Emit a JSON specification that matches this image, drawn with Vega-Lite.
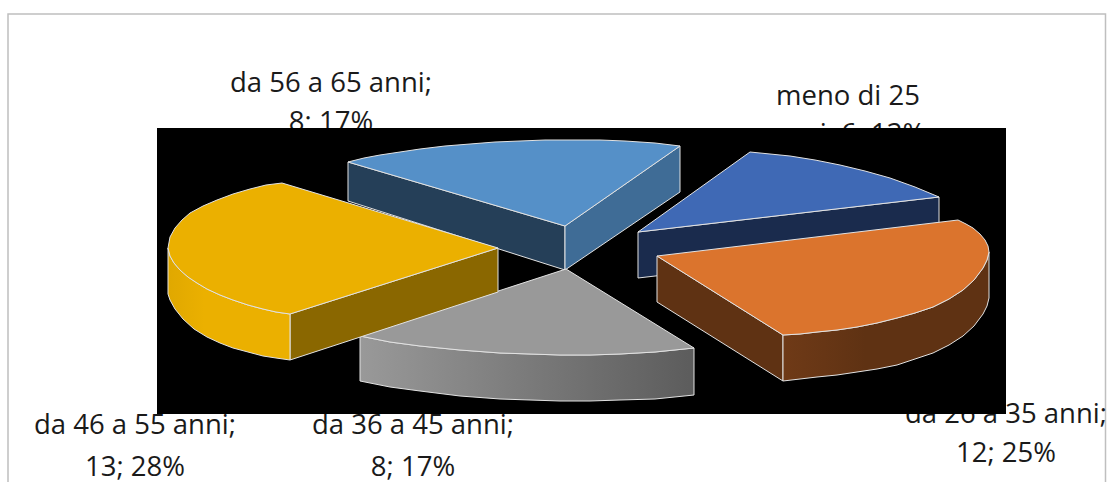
{"$schema":"https://vega.github.io/schema/vega-lite/v6.json","width":1113,"height":482,"autosize":"none","padding":0,"background":"white","config":{"view":{"stroke":null},"line":{"filled":true,"stroke":"#e2e2e2","strokeWidth":1,"interpolate":"linear"}},
"datasets":{"panel":[{"what":"frame","x":8,"x2":1105.5,"y":14,"y2":500},{"what":"back","x":157,"x2":1006,"y":128,"y2":414}],
"labels":[{"t":"da 56 a 65 anni;","x":331,"y":92},{"t":"8; 17%","x":331,"y":131},{"t":"meno di 25","x":848,"y":105},{"t":"anni; 6; 13%","x":848,"y":143},{"t":"da 46 a 55 anni;","x":135,"y":434},{"t":"13; 28%","x":135,"y":476},{"t":"da 36 a 45 anni;","x":413,"y":434},{"t":"8; 17%","x":413,"y":476},{"t":"da 26 a 35 anni;","x":1006,"y":423},{"t":"12; 25%","x":1006,"y":462}],
"shapes":[
{"p":"a1","i":0,"x":638,"y":232},{"p":"a1","i":1,"x":939,"y":197},{"p":"a1","i":2,"x":939,"y":243},{"p":"a1","i":3,"x":638,"y":278},{"p":"a1","i":4,"x":638,"y":232},
{"p":"a2","i":0,"x":638,"y":232},{"p":"a2","i":1,"x":750,"y":152},{"p":"a2","i":2,"x":770,"y":154},{"p":"a2","i":3,"x":790,"y":156},{"p":"a2","i":4,"x":815,"y":160},{"p":"a2","i":5,"x":840,"y":165},{"p":"a2","i":6,"x":865,"y":171},{"p":"a2","i":7,"x":890,"y":178},{"p":"a2","i":8,"x":915,"y":187},{"p":"a2","i":9,"x":939,"y":197},{"p":"a2","i":10,"x":638,"y":232},
{"p":"b1","i":0,"x":348,"y":162},{"p":"b1","i":1,"x":565,"y":226},{"p":"b1","i":2,"x":565,"y":270},{"p":"b1","i":3,"x":348,"y":201},{"p":"b1","i":4,"x":348,"y":162},
{"p":"b2","i":0,"x":565,"y":226},{"p":"b2","i":1,"x":680,"y":146},{"p":"b2","i":2,"x":680,"y":192},{"p":"b2","i":3,"x":565,"y":270},{"p":"b2","i":4,"x":565,"y":226},
{"p":"b3","i":0,"x":565,"y":226},{"p":"b3","i":1,"x":348,"y":162},{"p":"b3","i":2,"x":364,"y":158},{"p":"b3","i":3,"x":380,"y":155},{"p":"b3","i":4,"x":400,"y":152},{"p":"b3","i":5,"x":420,"y":149},{"p":"b3","i":6,"x":445,"y":146},{"p":"b3","i":7,"x":470,"y":144},{"p":"b3","i":8,"x":495,"y":142},{"p":"b3","i":9,"x":520,"y":141},{"p":"b3","i":10,"x":545,"y":140},{"p":"b3","i":11,"x":570,"y":140},{"p":"b3","i":12,"x":600,"y":140},{"p":"b3","i":13,"x":625,"y":141},{"p":"b3","i":14,"x":655,"y":143},{"p":"b3","i":15,"x":680,"y":146},{"p":"b3","i":16,"x":565,"y":226},
{"p":"c1","i":0,"x":360,"y":336},{"p":"c1","i":1,"x":390,"y":342},{"p":"c1","i":2,"x":420,"y":346},{"p":"c1","i":3,"x":460,"y":350},{"p":"c1","i":4,"x":500,"y":353},{"p":"c1","i":5,"x":530,"y":354},{"p":"c1","i":6,"x":560,"y":355},{"p":"c1","i":7,"x":590,"y":355},{"p":"c1","i":8,"x":620,"y":354},{"p":"c1","i":9,"x":655,"y":352},{"p":"c1","i":10,"x":694,"y":348},{"p":"c1","i":11,"x":694,"y":395},{"p":"c1","i":12,"x":655,"y":399},{"p":"c1","i":13,"x":620,"y":400},{"p":"c1","i":14,"x":590,"y":401},{"p":"c1","i":15,"x":560,"y":401},{"p":"c1","i":16,"x":530,"y":400},{"p":"c1","i":17,"x":500,"y":399},{"p":"c1","i":18,"x":460,"y":396},{"p":"c1","i":19,"x":420,"y":391},{"p":"c1","i":20,"x":390,"y":387},{"p":"c1","i":21,"x":360,"y":381},{"p":"c1","i":22,"x":360,"y":336},
{"p":"c2","i":0,"x":566,"y":269},{"p":"c2","i":1,"x":360,"y":336},{"p":"c2","i":2,"x":390,"y":342},{"p":"c2","i":3,"x":420,"y":346},{"p":"c2","i":4,"x":460,"y":350},{"p":"c2","i":5,"x":500,"y":353},{"p":"c2","i":6,"x":530,"y":354},{"p":"c2","i":7,"x":560,"y":355},{"p":"c2","i":8,"x":590,"y":355},{"p":"c2","i":9,"x":620,"y":354},{"p":"c2","i":10,"x":655,"y":352},{"p":"c2","i":11,"x":694,"y":348},{"p":"c2","i":12,"x":566,"y":269},
{"p":"d1","i":0,"x":290,"y":314},{"p":"d1","i":1,"x":498,"y":248},{"p":"d1","i":2,"x":498,"y":292},{"p":"d1","i":3,"x":290,"y":360},{"p":"d1","i":4,"x":290,"y":314},
{"p":"d2","i":0,"x":168,"y":248},{"p":"d2","i":1,"x":170,"y":256},{"p":"d2","i":2,"x":174,"y":263},{"p":"d2","i":3,"x":180,"y":270},{"p":"d2","i":4,"x":188,"y":277},{"p":"d2","i":5,"x":197,"y":283},{"p":"d2","i":6,"x":207,"y":289},{"p":"d2","i":7,"x":220,"y":295},{"p":"d2","i":8,"x":233,"y":300},{"p":"d2","i":9,"x":248,"y":305},{"p":"d2","i":10,"x":263,"y":309},{"p":"d2","i":11,"x":276,"y":312},{"p":"d2","i":12,"x":290,"y":314},{"p":"d2","i":13,"x":290,"y":360},{"p":"d2","i":14,"x":276,"y":358},{"p":"d2","i":15,"x":263,"y":356},{"p":"d2","i":16,"x":248,"y":352},{"p":"d2","i":17,"x":233,"y":348},{"p":"d2","i":18,"x":220,"y":343},{"p":"d2","i":19,"x":207,"y":337},{"p":"d2","i":20,"x":194,"y":329},{"p":"d2","i":21,"x":183,"y":319},{"p":"d2","i":22,"x":175,"y":309},{"p":"d2","i":23,"x":170,"y":300},{"p":"d2","i":24,"x":168,"y":294},{"p":"d2","i":25,"x":168,"y":248},
{"p":"d3","i":0,"x":498,"y":248},{"p":"d3","i":1,"x":282,"y":183},{"p":"d3","i":2,"x":266,"y":185},{"p":"d3","i":3,"x":250,"y":189},{"p":"d3","i":4,"x":233,"y":194},{"p":"d3","i":5,"x":217,"y":200},{"p":"d3","i":6,"x":203,"y":206},{"p":"d3","i":7,"x":190,"y":213},{"p":"d3","i":8,"x":182,"y":220},{"p":"d3","i":9,"x":175,"y":228},{"p":"d3","i":10,"x":170,"y":237},{"p":"d3","i":11,"x":168,"y":248},{"p":"d3","i":12,"x":170,"y":256},{"p":"d3","i":13,"x":174,"y":263},{"p":"d3","i":14,"x":180,"y":270},{"p":"d3","i":15,"x":188,"y":277},{"p":"d3","i":16,"x":197,"y":283},{"p":"d3","i":17,"x":207,"y":289},{"p":"d3","i":18,"x":220,"y":295},{"p":"d3","i":19,"x":233,"y":300},{"p":"d3","i":20,"x":248,"y":305},{"p":"d3","i":21,"x":263,"y":309},{"p":"d3","i":22,"x":276,"y":312},{"p":"d3","i":23,"x":290,"y":314},{"p":"d3","i":24,"x":498,"y":248},
{"p":"e1","i":0,"x":657,"y":256},{"p":"e1","i":1,"x":783,"y":335},{"p":"e1","i":2,"x":783,"y":381},{"p":"e1","i":3,"x":657,"y":302},{"p":"e1","i":4,"x":657,"y":256},
{"p":"e2","i":0,"x":989,"y":252},{"p":"e2","i":1,"x":987,"y":260},{"p":"e2","i":2,"x":983,"y":268},{"p":"e2","i":3,"x":974,"y":280},{"p":"e2","i":4,"x":963,"y":290},{"p":"e2","i":5,"x":949,"y":299},{"p":"e2","i":6,"x":933,"y":307},{"p":"e2","i":7,"x":915,"y":313},{"p":"e2","i":8,"x":897,"y":318},{"p":"e2","i":9,"x":877,"y":323},{"p":"e2","i":10,"x":857,"y":327},{"p":"e2","i":11,"x":837,"y":330},{"p":"e2","i":12,"x":817,"y":332},{"p":"e2","i":13,"x":800,"y":334},{"p":"e2","i":14,"x":783,"y":335},{"p":"e2","i":15,"x":783,"y":381},{"p":"e2","i":16,"x":800,"y":379},{"p":"e2","i":17,"x":817,"y":377},{"p":"e2","i":18,"x":837,"y":375},{"p":"e2","i":19,"x":857,"y":372},{"p":"e2","i":20,"x":877,"y":369},{"p":"e2","i":21,"x":897,"y":365},{"p":"e2","i":22,"x":915,"y":359},{"p":"e2","i":23,"x":933,"y":353},{"p":"e2","i":24,"x":949,"y":345},{"p":"e2","i":25,"x":963,"y":336},{"p":"e2","i":26,"x":974,"y":326},{"p":"e2","i":27,"x":983,"y":314},{"p":"e2","i":28,"x":987,"y":306},{"p":"e2","i":29,"x":989,"y":298},{"p":"e2","i":30,"x":989,"y":252},
{"p":"e3","i":0,"x":657,"y":256},{"p":"e3","i":1,"x":958,"y":220},{"p":"e3","i":2,"x":966,"y":224},{"p":"e3","i":3,"x":973,"y":228},{"p":"e3","i":4,"x":980,"y":234},{"p":"e3","i":5,"x":985,"y":240},{"p":"e3","i":6,"x":988,"y":246},{"p":"e3","i":7,"x":989,"y":252},{"p":"e3","i":8,"x":987,"y":260},{"p":"e3","i":9,"x":983,"y":268},{"p":"e3","i":10,"x":974,"y":280},{"p":"e3","i":11,"x":963,"y":290},{"p":"e3","i":12,"x":949,"y":299},{"p":"e3","i":13,"x":933,"y":307},{"p":"e3","i":14,"x":915,"y":313},{"p":"e3","i":15,"x":897,"y":318},{"p":"e3","i":16,"x":877,"y":323},{"p":"e3","i":17,"x":857,"y":327},{"p":"e3","i":18,"x":837,"y":330},{"p":"e3","i":19,"x":817,"y":332},{"p":"e3","i":20,"x":800,"y":334},{"p":"e3","i":21,"x":783,"y":335},{"p":"e3","i":22,"x":657,"y":256}
]},
"encoding":{"x":{"field":"x","type":"quantitative","scale":{"domain":[0,1113]},"axis":null},"y":{"field":"y","type":"quantitative","scale":{"domain":[482,0]},"axis":null}},
"layer":[
{"data":{"name":"panel"},"transform":[{"filter":"datum.what=='frame'"}],"mark":{"type":"rect","fill":"white","stroke":"#bfbfbf","strokeWidth":1.5},"encoding":{"x2":{"field":"x2"},"y2":{"field":"y2"}}},
{"data":{"name":"labels"},"mark":{"type":"text","font":"Open Sans","fontSize":27.5,"baseline":"alphabetic","align":"center","fill":"#1a1a1a"},"encoding":{"text":{"field":"t"}}},
{"data":{"name":"panel"},"transform":[{"filter":"datum.what=='back'"}],"mark":{"type":"rect","fill":"black"},"encoding":{"x2":{"field":"x2"},"y2":{"field":"y2"}}},
{"data":{"name":"shapes"},"transform":[{"filter":"datum.p=='a1'"}],"mark":{"type":"line","fill":"#1a2b4d"},"encoding":{"order":{"field":"i"}}},
{"data":{"name":"shapes"},"transform":[{"filter":"datum.p=='a2'"}],"mark":{"type":"line","fill":"#3f69b5"},"encoding":{"order":{"field":"i"}}},
{"data":{"name":"shapes"},"transform":[{"filter":"datum.p=='b1'"}],"mark":{"type":"line","fill":"#253f58"},"encoding":{"order":{"field":"i"}}},
{"data":{"name":"shapes"},"transform":[{"filter":"datum.p=='b2'"}],"mark":{"type":"line","fill":"#3f6c96"},"encoding":{"order":{"field":"i"}}},
{"data":{"name":"shapes"},"transform":[{"filter":"datum.p=='b3'"}],"mark":{"type":"line","fill":"#5590c8"},"encoding":{"order":{"field":"i"}}},
{"data":{"name":"shapes"},"transform":[{"filter":"datum.p=='c1'"}],"mark":{"type":"line","fill":{"gradient":"linear","x1":0,"x2":1,"y1":0,"y2":0,"stops":[{"offset":0,"color":"#999999"},{"offset":1,"color":"#5c5c5c"}]}},"encoding":{"order":{"field":"i"}}},
{"data":{"name":"shapes"},"transform":[{"filter":"datum.p=='c2'"}],"mark":{"type":"line","fill":"#999999"},"encoding":{"order":{"field":"i"}}},
{"data":{"name":"shapes"},"transform":[{"filter":"datum.p=='d1'"}],"mark":{"type":"line","fill":"#8a6700"},"encoding":{"order":{"field":"i"}}},
{"data":{"name":"shapes"},"transform":[{"filter":"datum.p=='d2'"}],"mark":{"type":"line","fill":{"gradient":"linear","x1":0,"x2":1,"y1":0,"y2":0,"stops":[{"offset":0,"color":"#e0a800"},{"offset":0.3,"color":"#ebb000"},{"offset":1,"color":"#ebb000"}]}},"encoding":{"order":{"field":"i"}}},
{"data":{"name":"shapes"},"transform":[{"filter":"datum.p=='d3'"}],"mark":{"type":"line","fill":"#ebb000"},"encoding":{"order":{"field":"i"}}},
{"data":{"name":"shapes"},"transform":[{"filter":"datum.p=='e1'"}],"mark":{"type":"line","fill":"#5f3213"},"encoding":{"order":{"field":"i"}}},
{"data":{"name":"shapes"},"transform":[{"filter":"datum.p=='e2'"}],"mark":{"type":"line","fill":{"gradient":"linear","x1":0,"x2":1,"y1":0,"y2":0,"stops":[{"offset":0,"color":"#6f3a17"},{"offset":0.4,"color":"#5f3213"},{"offset":1,"color":"#5f3213"}]}},"encoding":{"order":{"field":"i"}}},
{"data":{"name":"shapes"},"transform":[{"filter":"datum.p=='e3'"}],"mark":{"type":"line","fill":"#db742d"},"encoding":{"order":{"field":"i"}}}
]}
